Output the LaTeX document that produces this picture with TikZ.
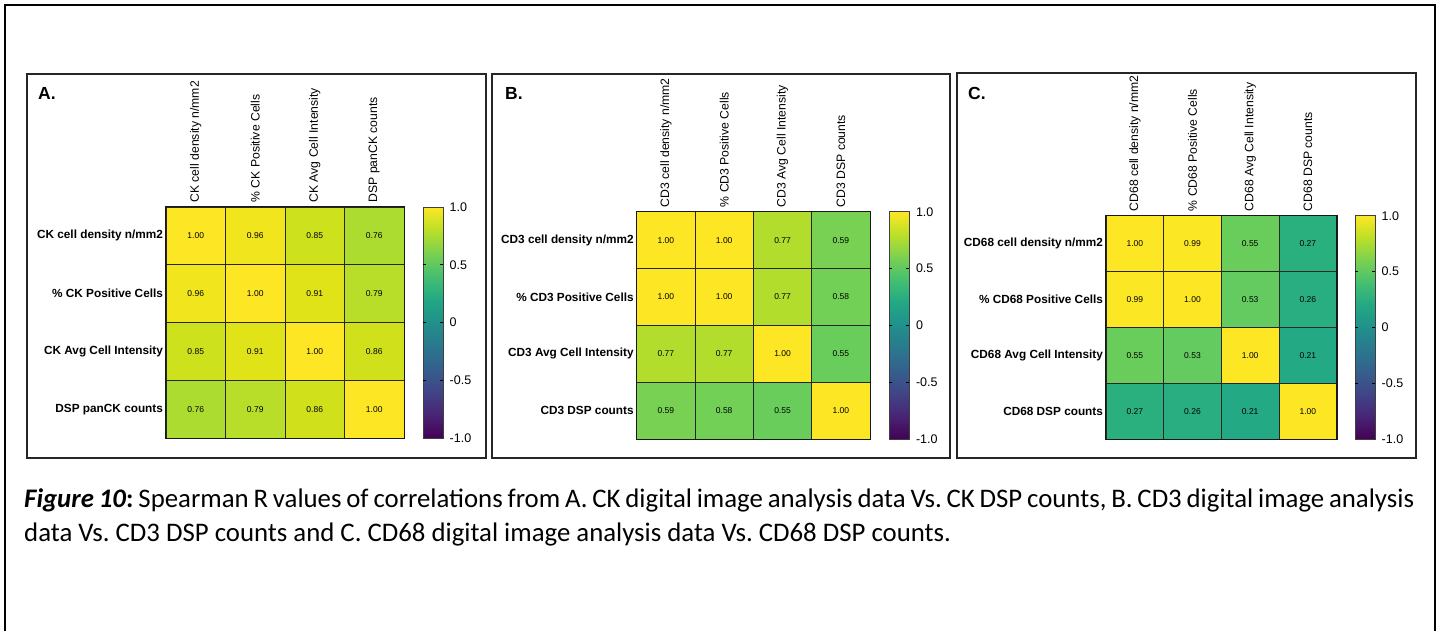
\documentclass[tikz,border=0pt]{standalone}
\usepackage{fontspec}
\newfontfamily\arialf{Liberation Sans}
\newfontfamily\calibf{Carlito}
\frenchspacing
\definecolor{vir0}{RGB}{68,1,84}
\definecolor{vir1}{RGB}{72,36,117}
\definecolor{vir2}{RGB}{65,68,135}
\definecolor{vir3}{RGB}{53,95,141}
\definecolor{vir4}{RGB}{42,120,142}
\definecolor{vir5}{RGB}{33,144,140}
\definecolor{vir6}{RGB}{34,168,132}
\definecolor{vir7}{RGB}{68,191,112}
\definecolor{vir8}{RGB}{122,209,81}
\definecolor{vir9}{RGB}{187,223,39}
\definecolor{vir10}{RGB}{253,231,37}
\definecolor{v100}{RGB}{253,231,37}
\definecolor{v099}{RGB}{251,231,35}
\definecolor{v096}{RGB}{241,229,29}
\definecolor{v091}{RGB}{223,227,24}
\definecolor{v086}{RGB}{208,225,28}
\definecolor{v085}{RGB}{205,225,29}
\definecolor{v079}{RGB}{184,222,41}
\definecolor{v077}{RGB}{178,221,45}
\definecolor{v076}{RGB}{173,220,48}
\definecolor{v059}{RGB}{120,209,82}
\definecolor{v058}{RGB}{115,208,86}
\definecolor{v055}{RGB}{105,205,91}
\definecolor{v053}{RGB}{99,203,95}
\definecolor{v027}{RGB}{42,176,127}
\definecolor{v026}{RGB}{40,174,128}
\definecolor{v021}{RGB}{35,169,131}
\tikzset{
  cell/.style={rectangle, draw=black!85, line width=0.7pt, inner sep=0pt, font=\arialf\fontsize{8.5}{10}\selectfont},
  rowlab/.style={anchor=east, inner sep=0pt, font=\arialf\bfseries\fontsize{11.8}{14}\selectfont},
  collab/.style={rotate=90, anchor=west, inner sep=0pt, font=\arialf\fontsize{12.2}{14}\selectfont},
  ticklab/.style={anchor=west, inner sep=0pt, font=\arialf\fontsize{12.5}{14}\selectfont},
  panlab/.style={anchor=west, inner sep=0pt, font=\arialf\bfseries\fontsize{17.5}{20}\selectfont},
  paneframe/.style={draw=black!85, line width=1.5pt},
  gridframe/.style={draw=black!90, line width=1.6pt},
  cbframe/.style={draw=black!75, line width=0.9pt},
  cbtick/.style={draw=black, line width=1pt},
  capt/.style={anchor=base west, inner sep=0pt, font=\calibf\fontsize{26.8}{30}\selectfont},
}
% #1 name, #2 grid left, #3 grid top, #4 cell w, #5 cell h, #6 labels, #7 values, #8 colourbar left
\newcommand{\hmpanel}[8]{%
  \foreach \rowlist [count=\rr] in {#7} {
    \foreach \vv/\tv [count=\cc] in \rowlist {
      \node[cell, fill=v\vv, minimum width=#4pt, minimum height=#5pt]
        (#1-\rr-\cc) at ({#2+(\cc-0.5)*#4},{#3+(\rr-0.5)*#5}) {\tv};
    }
  }
  \draw[gridframe] (#1-1-1.north west) rectangle (#1-4-4.south east);
  \foreach \lab [count=\kk] in {#6} {
    \node[rowlab] (#1-rl-\kk) at ([xshift=-2.5pt]#1-\kk-1.west) {\lab};
    \node[collab] (#1-cl-\kk) at ([yshift=4pt]#1-1-\kk.north) {\lab};
  }
  \pgfmathsetmacro\cbb{#3+4*#5}
  \pgfmathsetmacro\seg{4*#5/10}
  \foreach \ii in {0,...,9} {
    \pgfmathtruncatemacro\jj{\ii+1}
    \shade[bottom color=vir\ii, top color=vir\jj]
      ({#8},{\cbb-\ii*\seg+0.4}) rectangle ({#8+20},{\cbb-(\ii+1)*\seg});
  }
  \draw[cbframe] ({#8},{#3}) rectangle ({#8+20},{\cbb});
  \foreach \kk in {1,2,3} {
    \draw[cbtick] ({#8},{#3+\kk*#5}) -- ({#8+3},{#3+\kk*#5});
    \draw[cbtick] ({#8+17},{#3+\kk*#5}) -- ({#8+20},{#3+\kk*#5});
  }
  \foreach \tl [count=\kk from 0] in {1.0,0.5,0,-0.5,-1.0} {
    \node[ticklab] (#1-tk-\kk) at ({#8+26.5},{#3+\kk*#5}) {\tl};
  }
}
\begin{document}
\begin{tikzpicture}[x=1pt,y=-1pt]
\useasboundingbox (0,0) rectangle (1438,630);
\fill[white] (0,0) rectangle (1438,630);
\draw[black, line width=2pt] (5,640) -- (5,5) -- (1435,5) -- (1435,640);
% panel frames
\draw[paneframe] (27,74) rectangle (486,458);
\draw[paneframe] (492,74) rectangle (950,458);
\draw[paneframe] (957,73) rectangle (1416,458);
\node[panlab] (labA) at (38,93.5) {A.};
\node[panlab] (labB) at (505,93.5) {B.};
\node[panlab] (labC) at (968,93.5) {C.};
\hmpanel{A}{166}{207}{59.5}{57.75}%
  {CK cell density n/mm2,\% CK Positive Cells,CK Avg Cell Intensity,DSP panCK counts}%
  {{100/1.00,096/0.96,085/0.85,076/0.76},{096/0.96,100/1.00,091/0.91,079/0.79},{085/0.85,091/0.91,100/1.00,086/0.86},{076/0.76,079/0.79,086/0.86,100/1.00}}%
  {423}
\hmpanel{B}{636.7}{211.7}{58.33}{56.83}%
  {CD3 cell density n/mm2,\% CD3 Positive Cells,CD3 Avg Cell Intensity,CD3 DSP counts}%
  {{100/1.00,100/1.00,077/0.77,059/0.59},{100/1.00,100/1.00,077/0.77,058/0.58},{077/0.77,077/0.77,100/1.00,055/0.55},{059/0.59,058/0.58,055/0.55,100/1.00}}%
  {889.3}
\hmpanel{C}{1106}{215.7}{57.67}{55.83}%
  {CD68 cell density n/mm2,\% CD68 Positive Cells,CD68 Avg Cell Intensity,CD68 DSP counts}%
  {{100/1.00,099/0.99,055/0.55,027/0.27},{099/0.99,100/1.00,053/0.53,026/0.26},{055/0.55,053/0.53,100/1.00,021/0.21},{027/0.27,026/0.26,021/0.21,100/1.00}}%
  {1355}
% caption
\node[capt] (cap1) at (24,507) {\makebox[1390pt][s]{\textbf{\textit{Figure 10}:} Spearman R values of correlations from A. CK digital image analysis data Vs. CK DSP counts, B. CD3 digital image analysis}};
\node[capt] (cap2) at (24,541) {data Vs. CD3 DSP counts and C. CD68 digital image analysis data Vs. CD68 DSP counts.};
\end{tikzpicture}
\end{document}
